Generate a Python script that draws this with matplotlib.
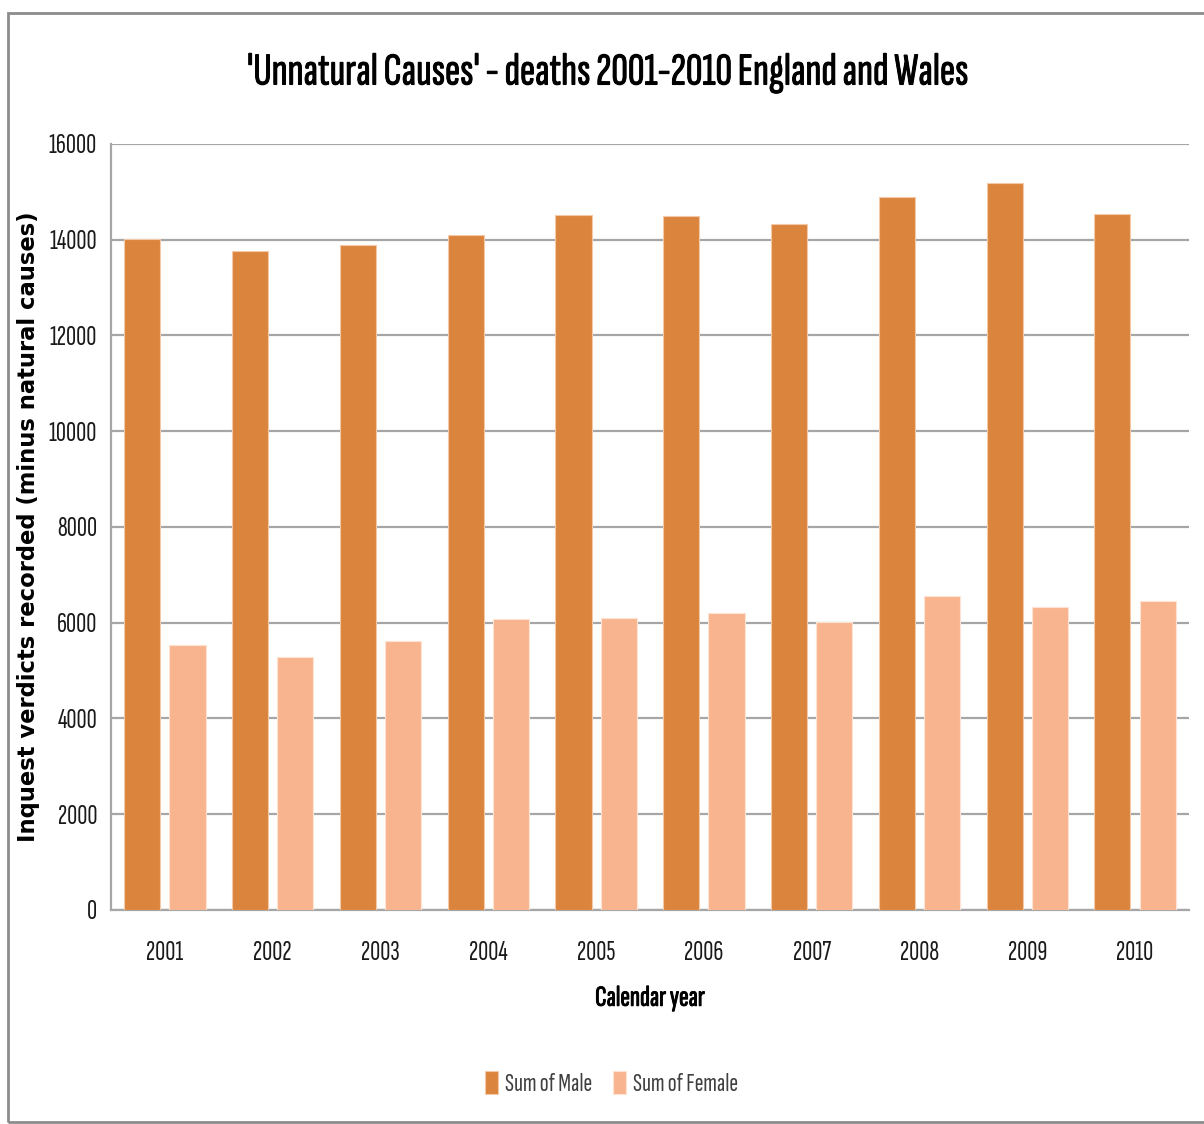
import matplotlib
matplotlib.use('Agg')
import matplotlib.pyplot as plt
import matplotlib.patheffects as pe
import numpy as np
from matplotlib.patches import Rectangle

# Inquest verdicts by year (unnatural causes)

years = ['2001', '2002', '2003', '2004', '2005', '2006', '2007', '2008', '2009', '2010']
male = [14020, 13760, 13880, 14100, 14510, 14490, 14320, 14900, 15180, 14540]
female = [5540, 5290, 5610, 6070, 6100, 6200, 6010, 6550, 6320, 6450]
yticks = [0, 2000, 4000, 6000, 8000, 10000, 12000, 14000, 16000]

narrow = ['Sofia Sans Extra Condensed', 'Archivo Narrow', 'Lato', 'DejaVu Sans']
plt.rcParams['font.family'] = narrow

male_col = '#DB843D'
female_col = '#F8B48E'
grid_col = '#A6A6A6'
text_col = '#1A1A1A'
heavy = [pe.withStroke(linewidth=0.7, foreground='black')]

fig = plt.figure(figsize=(12.04, 11.24), dpi=100)
ax = fig.add_axes([0.0922, 0.1904, 0.8953, 0.6815])

# chart frame
fig.patches.append(Rectangle((0.0066, 0.0018), 1.2, 0.9866, transform=fig.transFigure,
                             fill=False, edgecolor='#8C8C8C', linewidth=2))

x = np.arange(len(years))
w = 0.335
ax.bar(x - 0.21, male, w, color=male_col, edgecolor='#F3C9A8', linewidth=0.8, label='Sum of Male', zorder=3)
ax.bar(x + 0.21, female, w, color=female_col, edgecolor='#FDE3D4', linewidth=0.8, label='Sum of Female', zorder=3)

ax.set_xlim(-0.5, len(years) - 0.5)
ax.set_ylim(0, 16000)
ax.set_yticks(yticks)
ax.set_yticklabels([str(t) for t in yticks], fontsize=20, color=text_col)
ax.set_xticks(x)
ax.set_xticklabels(years, fontsize=20, color=text_col)
ax.tick_params(axis='x', length=0, pad=22)
ax.tick_params(axis='y', length=0, pad=10)

ax.grid(axis='y', color=grid_col, linewidth=1.6, zorder=0)
for s in ['top', 'right']:
    ax.spines[s].set_visible(False)
for s in ['left', 'bottom']:
    ax.spines[s].set_color(grid_col)
    ax.spines[s].set_linewidth(1.6)

ax.set_xlabel('Calendar year', fontsize=21, labelpad=16, path_effects=heavy)
ax.set_ylabel('Inquest verdicts recorded (minus natural causes)', fontsize=16.3, fontweight='bold',
              family='DejaVu Sans', labelpad=6)

fig.text(0.505, 0.935, "'Unnatural Causes' - deaths 2001-2010 England and Wales",
         ha='center', va='center', fontsize=33, path_effects=heavy)

fig.legend(loc='center', bbox_to_anchor=(0.508, 0.036), ncol=2, frameon=False,
           fontsize=19, handlelength=0.5, handleheight=1.0, handletextpad=0.25,
           columnspacing=0.8, labelcolor='#404040')

fig.savefig('out.png', dpi=100)
